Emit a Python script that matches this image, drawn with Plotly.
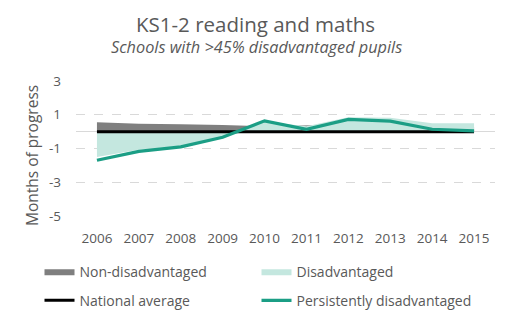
import plotly.graph_objects as go

years = ["2006", "2007", "2008", "2009", "2010", "2011", "2012", "2013", "2014", "2015"]
non_disadvantaged = [0.55, 0.46, 0.43, 0.40, 0.32, 0.38, 0.42, 0.42, 0.32, 0.30]
disadvantaged = [-1.5, -1.08, -0.85, -0.30, 0.60, 0.32, 0.85, 0.82, 0.49, 0.49]
national_average = [0, 0, 0, 0, 0, 0, 0, 0, 0, 0]
persistently = [-1.70, -1.17, -0.90, -0.33, 0.64, 0.14, 0.72, 0.62, 0.14, 0.05]
y_ticks = [3, 1, -1, -3, -5]

TXT = "#595959"
FONT = "Open Sans"

W, H = 512, 333
L, R, T, B = 76, 17, 81, 117
PW, PH = W - L - R, H - T - B


def px_x(x):
    return (x - L) / PW


def px_y(y):
    return (H - B - y) / PH


fig = go.Figure()
fig.add_trace(go.Scatter(x=years, y=non_disadvantaged, name="Non-disadvantaged",
                         mode="lines", fill="tozeroy", line=dict(width=0, color="#7f7f7f"),
                         fillcolor="#7f7f7f", legend="legend"))
fig.add_trace(go.Scatter(x=years, y=disadvantaged, name="Disadvantaged",
                         mode="lines", fill="tozeroy", line=dict(width=0, color="#c4e7df"),
                         fillcolor="#c4e7df", legend="legend"))
fig.add_trace(go.Scatter(x=years, y=national_average, name="National average",
                         mode="lines", line=dict(width=3, color="#000000"), legend="legend2"))
fig.add_trace(go.Scatter(x=years, y=persistently, name="Persistently disadvantaged",
                         mode="lines", line=dict(width=3.2, color="#1b9e85"), legend="legend2"))

leg_common = dict(orientation="h", xref="paper", yref="paper", xanchor="left",
                  yanchor="middle", font=dict(family=FONT, size=14, color=TXT),
                  entrywidth=172, entrywidthmode="pixels", itemwidth=30,
                  bgcolor="rgba(0,0,0,0)", borderwidth=0)

fig.update_layout(
    width=W, height=H,
    margin=dict(l=L, r=R, t=T, b=B),
    paper_bgcolor="white", plot_bgcolor="white",
    showlegend=True,
    legend=dict(x=px_x(39.5), y=px_y(271.7), **leg_common),
    legend2=dict(x=px_x(39.5), y=px_y(300.7), **leg_common),
    xaxis=dict(type="category", range=[-0.5, 9.5], showgrid=False, zeroline=False,
               showline=False, ticks="", ticklabelstandoff=12, automargin=False,
               tickfont=dict(family=FONT, size=13.5, color=TXT)),
    yaxis=dict(range=[-5, 3], tickvals=y_ticks, ticktext=[str(v) for v in y_ticks],
               showgrid=True, gridcolor="#d9d9d9", griddash="dash", gridwidth=1,
               zeroline=True, zerolinecolor="#d9d9d9", zerolinewidth=1,
               showline=False, ticks="", ticklabelstandoff=14, automargin=False,
               tickfont=dict(family=FONT, size=13.5, color=TXT)),
)
fig.add_annotation(text="Months of progress", xref="paper", yref="paper",
                   x=px_x(32), y=px_y(156), xanchor="center", yanchor="middle", textangle=-90,
                   showarrow=False, font=dict(family=FONT, size=15.5, color=TXT))
fig.add_annotation(text="KS1-2 reading and maths", xref="paper", yref="paper",
                   x=px_x(255), y=px_y(24), xanchor="center", yanchor="middle",
                   showarrow=False, font=dict(family=FONT, size=20.5, color=TXT))
fig.add_annotation(text="<i>Schools with &gt;45% disadvantaged pupils</i>", xref="paper", yref="paper",
                   x=px_x(256), y=px_y(47), xanchor="center", yanchor="middle",
                   showarrow=False, font=dict(family=FONT, size=16.3, color=TXT))

fig.write_html("out.html")
